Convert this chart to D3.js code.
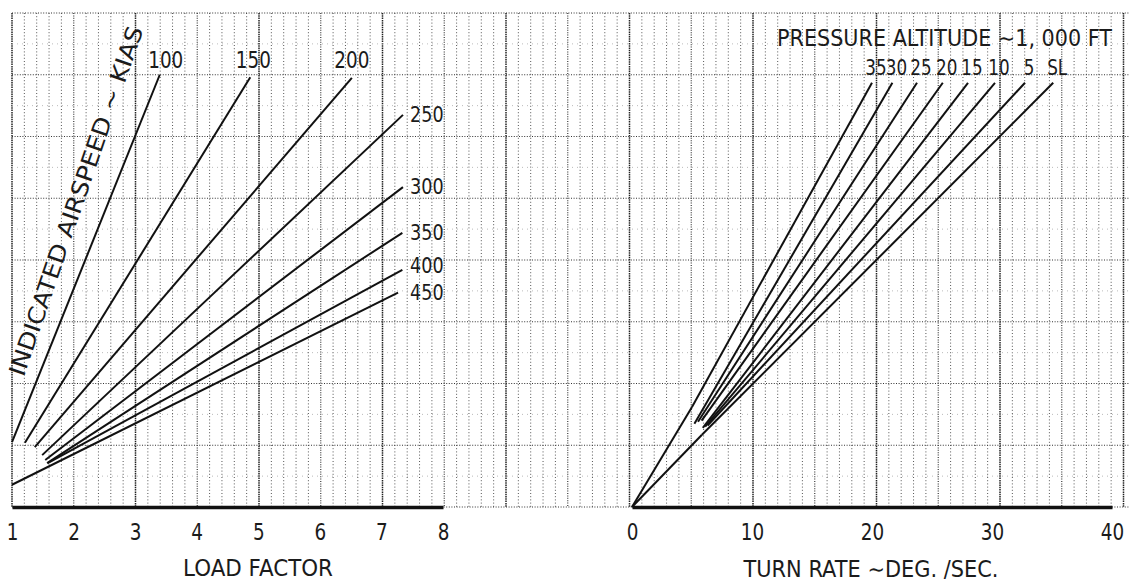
<!DOCTYPE html>
<html><head><meta charset="utf-8">
<script src="https://cdn.jsdelivr.net/npm/d3@7"></script>
<style>
body{margin:0;background:#fff;}
svg text{font-family:"DejaVu Sans",sans-serif;fill:#1b1b1b;}
</style></head><body><svg id="c" width="1138" height="582"></svg>
<script>
// ---- data ----
const loadTicks = [1, 2, 3, 4, 5, 6, 7, 8];
const turnTicks = [0, 10, 20, 30, 40];
const airspeeds = ["100", "150", "200", "250", "300", "350", "400", "450"];
const asStartLF = [1.00, 1.21, 1.37, 1.49, 1.54, 1.57, 1.58, 1.00];
const asStartY  = [1.05, 1.04, 0.97, 0.84, 0.76, 0.71, 0.71, 0.36];
const asEndLF   = [3.40, 4.87, 6.52, 7.35, 7.35, 7.34, 7.34, 7.27];
const asEndY    = [7.00, 6.96, 6.95, 6.35, 5.18, 4.44, 3.84, 3.47];
const altitudes = ["35", "30", "25", "20", "15", "10", "5", "SL"];
const altStartTR = [5.0, 5.2, 5.5, 5.8, 5.9, 6.1, 6.3, 5.83];
const altStartY  = [1.62, 1.35, 1.38, 1.40, 1.28, 1.30, 1.32, 1.17];
const altEndTR   = [20.0, 21.7, 23.75, 25.9, 28.0, 30.25, 32.75, 35.1];
const altEndY    = [6.87, 6.87, 6.87, 6.87, 6.87, 6.87, 6.87, 6.87];
const envelopeEndTR = [5.0, 5.83];
const envelopeEndY  = [1.62, 1.17];

// ---- layout ----
const svg = d3.select("#c");
const gridTop = 13, gridBottom = 507, gridLeft = 12, gridRight = 1130;
const major = (gridBottom - gridTop) / 8;
const SX = 0.8; // horizontal condensing of the lettering

const xL = d3.scaleLinear().domain([1, 8]).range([12, 443]);
const xR = d3.scaleLinear().domain([0, 40]).range([632, 1112]);
const y = d3.scaleLinear().domain([0, 8]).range([gridBottom, gridTop]);

function label(x, yy, txt, size, anchor, width) {
  const t = svg.append("text")
    .attr("transform", `translate(${x},${yy}) scale(${SX},1)`)
    .attr("text-anchor", anchor || "start")
    .attr("font-size", size).text(txt);
  if (width) t.attr("textLength", width / SX).attr("lengthAdjust", "spacingAndGlyphs");
  return t;
}

// ---- graph paper grid ----
const grid = svg.append("g");
const minorStep = major / 5;
const nV = Math.floor((gridRight - gridLeft) / minorStep + 0.01);
d3.range(0, nV + 1).forEach(i => {
  const gx = gridLeft + i * minorStep;
  const heavy = i % 10 === 0, med = i % 5 === 0;
  grid.append("line").attr("x1", gx).attr("x2", gx).attr("y1", gridTop).attr("y2", gridBottom)
    .attr("stroke", heavy ? "#222" : med ? "#3a3a3a" : "#555")
    .attr("stroke-width", heavy ? 1.5 : med ? 1.2 : 1)
    .attr("stroke-dasharray", heavy ? "1.5,0.8" : med ? "1,1.4" : "1,2.2");
});
d3.range(0, 17).forEach(i => {
  const gy = gridTop + i * major / 2;
  const maj = i % 2 === 0;
  grid.append("line").attr("x1", gridLeft).attr("x2", gridRight).attr("y1", gy).attr("y2", gy)
    .attr("stroke", maj ? "#333" : "#aaa")
    .attr("stroke-width", maj ? 1.2 : 0.8)
    .attr("stroke-dasharray", maj ? "1,1.6" : "1,4");
});

// ---- axes ----
function styleAxis(g) {
  g.attr("font-family", null).attr("font-size", null);
  g.select(".domain").attr("stroke", "#111").attr("stroke-width", 3.5);
  g.selectAll(".tick line").remove();
  g.selectAll(".tick text").attr("font-size", 23).attr("dy", 0).attr("y", 0)
    .attr("transform", `translate(0,33) scale(${SX},1)`).style("fill", "#1b1b1b");
}
svg.append("g").attr("transform", `translate(0,${gridBottom})`)
  .call(d3.axisBottom(xL).tickValues(loadTicks).tickSize(0).tickSizeOuter(0).tickFormat(d3.format("d")))
  .call(styleAxis);
svg.append("g").attr("transform", `translate(0,${gridBottom})`)
  .call(d3.axisBottom(xR).tickValues(turnTicks).tickSize(0).tickSizeOuter(0).tickFormat(d3.format("d")))
  .call(styleAxis);

label(258, 576, "LOAD FACTOR", 23, "middle", 150);
label(871, 577, "TURN RATE ∼DEG. /SEC.", 23, "middle", 255);

// ---- left panel: airspeed lines ----
const lines = svg.append("g").attr("stroke", "#111").attr("stroke-width", 2).attr("fill", "none");
let prevBase = Infinity;
const sideBase = [];
for (let i = airspeeds.length - 1; i >= 0; i--) {
  if (asEndY[i] > 6.9) continue;
  let b = y(asEndY[i]) + 7;
  if (prevBase - b < 27) b = prevBase - 27;
  sideBase[i] = b;
  prevBase = b;
}
airspeeds.forEach((a, i) => {
  lines.append("line")
    .attr("x1", xL(asStartLF[i])).attr("y1", y(asStartY[i]))
    .attr("x2", xL(asEndLF[i])).attr("y2", y(asEndY[i]));
  const ex = xL(asEndLF[i]);
  if (asEndY[i] > 6.9) {
    label(ex + 6 - i * 3, 68, a, 23, "middle");
  } else {
    label(410, sideBase[i], a, 22, "start");
  }
});
svg.append("text").attr("transform", "translate(76,201) rotate(-71)")
  .attr("text-anchor", "middle").attr("dominant-baseline", "central")
  .attr("font-size", 23).attr("textLength", 368).attr("lengthAdjust", "spacingAndGlyphs")
  .text("INDICATED AIRSPEED ∼ KIAS");

// ---- right panel: altitude lines ----
envelopeEndTR.forEach((t, i) => {
  lines.append("line").attr("x1", xR(0)).attr("y1", y(0))
    .attr("x2", xR(t)).attr("y2", y(envelopeEndY[i]));
});
altitudes.forEach((a, i) => {
  lines.append("line")
    .attr("x1", xR(altStartTR[i])).attr("y1", y(altStartY[i]))
    .attr("x2", xR(altEndTR[i])).attr("y2", y(altEndY[i]));
  label(xR(altEndTR[i]) + 4, 75, a, 21, "middle");
});
label(1112, 46, "PRESSURE ALTITUDE ∼1, 000 FT", 23, "end", 335);
</script></body></html>
